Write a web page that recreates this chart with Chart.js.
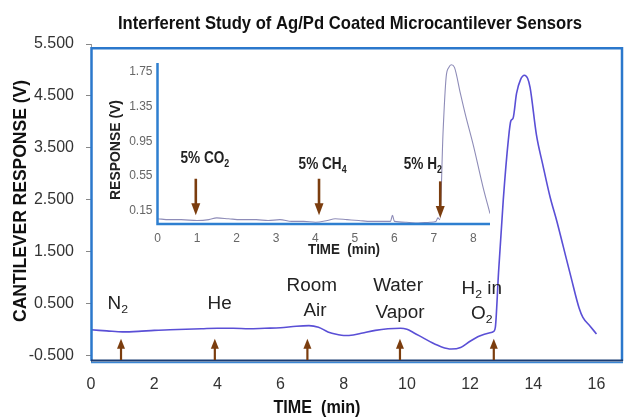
<!DOCTYPE html>
<html><head><meta charset="utf-8">
<script src="https://cdn.jsdelivr.net/npm/chart.js@4.4.1/dist/chart.umd.min.js"></script>
<style>
html,body{margin:0;padding:0;background:#fff;}
#wrap{position:relative;width:625px;height:420px;overflow:hidden;}
#main{position:absolute;left:0;top:0;}
#inset{position:absolute;left:95px;top:50px;}
</style></head><body>
<div id="wrap"><canvas id="main" width="625" height="420"></canvas><canvas id="inset" width="405" height="215"></canvas></div>
<script>
// ---------- main chart data ----------
const mainTime = [0,0.5,1.0,1.5,2.0,2.5,3.0,3.5,4.0,4.5,5.0,5.5,6.0,6.5,6.9,7.2,7.5,7.8,8.0,8.3,8.6,9.0,9.4,9.8,10.0,10.2,10.5,10.8,11.1,11.4,11.7,12.0,12.3,12.6,12.75,12.8,12.9,13.05,13.21,13.29,13.36,13.47,13.6,13.72,13.82,13.9,14.1,14.3,14.53,14.75,14.95,15.2,15.45,15.57,15.8,16.0];
const mainResponse = [0.00,-0.02,-0.04,-0.03,-0.01,0.00,0.01,0.02,0.03,0.03,0.02,0.03,0.04,0.07,0.08,0.05,-0.04,-0.09,-0.11,-0.10,-0.06,-0.01,0.02,0.03,0.01,-0.05,-0.15,-0.25,-0.33,-0.37,-0.34,-0.22,-0.12,-0.06,-0.03,0.05,1.10,2.50,3.65,4.02,4.07,4.55,4.82,4.90,4.84,4.66,3.75,3.18,2.56,2.08,1.60,1.00,0.42,0.24,0.07,-0.08];
const mainYTicks = [-0.5,0.5,1.5,2.5,3.5,4.5,5.5];
const mainXTicks = [0,2,4,6,8,10,12,14,16];
const gasArrowTimes = [0.95,3.92,6.85,9.78,12.75];
const gasLabelText = ["N_2","He","Room","Air","Water","Vapor","H_2 in","O_2"];
const gasLabelTime = [0.85,4.07,6.99,7.09,9.72,9.78,12.37,12.37];
const gasLabelValue = [0.52,0.52,0.865,0.385,0.865,0.35,0.81,0.33];

// ---------- inset chart data ----------
const insetTime = [0,0.3,0.6,1.0,1.3,1.5,1.8,2.1,2.5,2.8,3.1,3.4,3.7,4.0,4.3,4.5,4.8,5.1,5.4,5.7,5.9,5.95,6.0,6.3,6.6,6.9,7.05,7.1,7.15,7.23,7.31,7.38,7.44,7.52,7.67,7.8,8.0,8.24,8.42];
const insetResponse = [0.06,0.05,0.05,0.04,0.05,0.07,0.06,0.05,0.05,0.04,0.05,0.03,0.03,0.02,0.04,0.06,0.05,0.04,0.03,0.03,0.03,0.10,0.03,0.02,0.01,0.02,0.03,0.07,0.05,1.04,1.69,1.80,1.83,1.80,1.50,1.25,0.90,0.43,0.12];
const insetYTicks = [0.15,0.55,0.95,1.35,1.75];
const insetXTicks = [0,1,2,3,4,5,6,7,8];
const insetArrowTimes = [0.97,4.09,7.16];
const insetLabelText = ["5% CO_2","5% CH_4","5% H_2"];
const insetLabelTime = [1.2,4.18,6.72];
const insetLabelValue = [0.77,0.70,0.70];

const FAM = "'Liberation Sans', Arial, sans-serif";
Chart.defaults.font.family = FAM;

function parseRich(s){
  const parts=[];
  for(let i=0;i<s.length;i++){
    if(s[i]==='_'){ parts.push({t:s[i+1],sub:true}); i++; }
    else if(parts.length && !parts[parts.length-1].sub){ parts[parts.length-1].t+=s[i]; }
    else parts.push({t:s[i],sub:false});
  }
  return parts;
}
// draw text centred at (x,y) (y = middle of capitals), horizontally scaled by sx
function drawRich(ctx,s,x,y,size,weight,sx,color){
  const parts=parseRich(s);
  ctx.save();
  ctx.fillStyle=color; ctx.textAlign='left'; ctx.textBaseline='alphabetic';
  let w=0;
  parts.forEach(p=>{ p.size=p.sub?size*0.65:size; ctx.font=`${weight} ${p.size}px ${FAM}`; p.w=ctx.measureText(p.t).width; w+=p.w; });
  ctx.translate(x,y); ctx.scale(sx,1);
  let cx=-w/2; const base=size*0.36;
  parts.forEach(p=>{ ctx.font=`${weight} ${p.size}px ${FAM}`; ctx.fillText(p.t,cx,base+(p.sub?size*0.22:0)); cx+=p.w; });
  ctx.restore();
}
// text fitted to a target length, optionally rotated
function drawFitted(ctx,s,x,y,size,weight,len,rot,color){
  ctx.save();
  ctx.fillStyle=color; ctx.textAlign='center'; ctx.textBaseline='alphabetic';
  ctx.font=`${weight} ${size}px ${FAM}`;
  const w=ctx.measureText(s).width;
  ctx.translate(x,y); ctx.rotate(rot); ctx.scale(len/w,1);
  ctx.fillText(s,0,size*0.36);
  ctx.restore();
}
function arrow(ctx,x,yFrom,yTip,headLen,headW,shaftW,color){
  const dir = yTip<yFrom?-1:1;
  ctx.save();
  ctx.strokeStyle=color; ctx.fillStyle=color; ctx.lineWidth=shaftW;
  ctx.beginPath(); ctx.moveTo(x,yFrom); ctx.lineTo(x,yTip-dir*headLen*0.8); ctx.stroke();
  ctx.beginPath(); ctx.moveTo(x,yTip); ctx.lineTo(x-headW/2,yTip-dir*headLen); ctx.lineTo(x+headW/2,yTip-dir*headLen); ctx.closePath(); ctx.fill();
  ctx.restore();
}

const mainDecor = {
  id:'mainDecor',
  afterDatasetsDraw(chart){
    const {ctx, chartArea:a, scales:{x,y}} = chart;
    // frame
    const top = y.getPixelForValue(5.42);
    ctx.save();
    ctx.strokeStyle='#2b78cc'; ctx.lineWidth=2.5;
    ctx.beginPath(); ctx.moveTo(a.left+0.5,a.bottom); ctx.lineTo(a.left+0.5,top); ctx.lineTo(a.right-1,top); ctx.lineTo(a.right-1,a.bottom); ctx.stroke();
    ctx.strokeStyle='#3a86d4'; ctx.lineWidth=1.5;
    ctx.beginPath(); ctx.moveTo(a.left,a.bottom+1.5); ctx.lineTo(a.right,a.bottom+1.5); ctx.stroke();
    ctx.strokeStyle='#1b3c72'; ctx.lineWidth=2.2;
    ctx.beginPath(); ctx.moveTo(a.left,a.bottom-0.5); ctx.lineTo(a.right,a.bottom-0.5); ctx.stroke();
    ctx.restore();
    // arrows
    gasArrowTimes.forEach(t=>{
      arrow(ctx, x.getPixelForValue(t), a.bottom-1, y.getPixelForValue(-0.17), 10, 8, 2.2, '#7b3d0e');
    });
    // labels
    gasLabelText.forEach((s,i)=>{
      drawRich(ctx, s, x.getPixelForValue(gasLabelTime[i]), y.getPixelForValue(gasLabelValue[i]), 18, 'normal', 1.05, '#222');
    });
    // titles
    drawFitted(ctx,'Interferent Study of Ag/Pd Coated Microcantilever Sensors',350,22,19,'bold',464,0,'#111');
    drawFitted(ctx,'CANTILEVER RESPONSE (V)',19,201,19,'bold',242,-Math.PI/2,'#111');
    drawFitted(ctx,'TIME  (min)',317,407,18,'bold',87,0,'#111');
  }
};

new Chart(document.getElementById('main'), {
  type:'line',
  data:{datasets:[{data: mainTime.map((t,i)=>({x:t,y:mainResponse[i]})), borderColor:'#5a4fd6', borderWidth:1.6, pointRadius:0, cubicInterpolationMode:'monotone', fill:false}]},
  options:{
    responsive:false, animation:false, events:[],
    layout:{padding:{top:44,right:2,bottom:0,left:0}},
    plugins:{legend:{display:false},tooltip:{enabled:false},title:{display:false}},
    scales:{
      x:{type:'linear',min:0,max:16.84,
        afterBuildTicks:s=>{s.ticks=mainXTicks.map(v=>({value:v}));},
        afterFit:s=>{s.height=59;},
        grid:{display:false,drawTicks:false}, border:{display:false},
        ticks:{padding:14,color:'#333',font:{size:16},maxRotation:0,autoSkip:false,callback:v=>String(v)}},
      y:{type:'linear',min:-0.6,max:5.5,
        afterBuildTicks:s=>{s.ticks=mainYTicks.map(v=>({value:v}));},
        afterFit:s=>{s.width=91;},
        grid:{drawOnChartArea:false,drawTicks:true,tickLength:5,color:'#888'},
        border:{display:true,color:'#999',width:1},
        ticks:{padding:12,color:'#333',font:{size:16},autoSkip:false,callback:v=>Number(v).toFixed(3)}}
    }
  },
  plugins:[mainDecor]
});

const insetDecor = {
  id:'insetDecor',
  afterDatasetsDraw(chart){
    const {ctx, chartArea:a, scales:{x,y}} = chart;
    ctx.save();
    ctx.strokeStyle='#2e7fd0'; ctx.lineWidth=2.5;
    ctx.beginPath(); ctx.moveTo(a.left,a.top); ctx.lineTo(a.left,a.bottom); ctx.lineTo(a.right,a.bottom); ctx.stroke();
    ctx.restore();
    insetArrowTimes.forEach((t,i)=>{
      arrow(ctx, x.getPixelForValue(t), y.getPixelForValue(i===2?0.49:0.52), y.getPixelForValue(i===2?0.07:0.10), 12, 9, 2.6, '#7b3d0e');
    });
    insetLabelText.forEach((s,i)=>{
      drawRich(ctx, s, x.getPixelForValue(insetLabelTime[i]), y.getPixelForValue(insetLabelValue[i]), 17, 'bold', 0.8, '#222');
    });
    drawFitted(ctx,'RESPONSE (V)',20,100,15,'bold',100,-Math.PI/2,'#222');
    drawFitted(ctx,'TIME  (min)',249,199,14,'bold',72,0,'#222');
  }
};

new Chart(document.getElementById('inset'), {
  type:'line',
  data:{datasets:[{data: insetTime.map((t,i)=>({x:t,y:insetResponse[i]})), borderColor:'#8e8cb8', borderWidth:1.1, pointRadius:0, cubicInterpolationMode:'monotone', fill:false}]},
  options:{
    responsive:false, animation:false, events:[],
    layout:{padding:{top:13,right:10,bottom:0,left:0}},
    plugins:{legend:{display:false},tooltip:{enabled:false}},
    scales:{
      x:{type:'linear',min:0,max:8.42,
        afterBuildTicks:s=>{s.ticks=insetXTicks.map(v=>({value:v}));},
        afterFit:s=>{s.height=41;},
        grid:{display:false,drawTicks:false}, border:{display:false},
        ticks:{padding:7,color:'#666',font:{size:12},maxRotation:0,autoSkip:false,callback:v=>String(v)}},
      y:{type:'linear',min:0,max:1.85,
        afterBuildTicks:s=>{s.ticks=insetYTicks.map(v=>({value:v}));},
        afterFit:s=>{s.width=62.5;},
        grid:{display:false,drawTicks:false}, border:{display:false},
        ticks:{padding:5,color:'#666',font:{size:12},autoSkip:false,callback:v=>Number(v).toFixed(2)}}
    }
  },
  plugins:[insetDecor]
});
</script>
</body></html>
